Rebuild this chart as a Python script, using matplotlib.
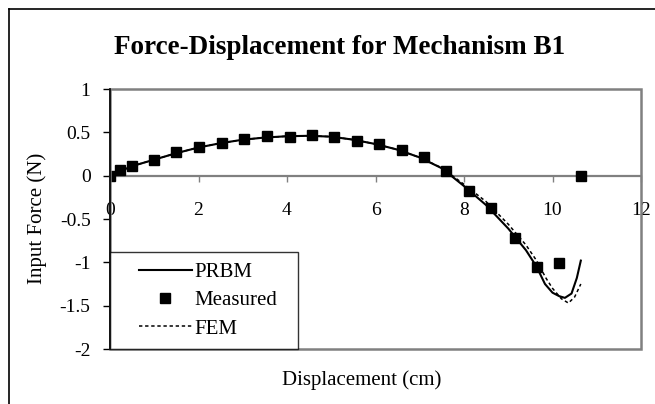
import matplotlib
matplotlib.use("Agg")
import matplotlib.pyplot as plt
from matplotlib.lines import Line2D
from matplotlib.patches import Rectangle
from matplotlib.legend_handler import HandlerLine2D

plt.rcParams["font.family"] = ["Liberation Serif", "DejaVu Serif"]

# ---- data ----
prbm_x = [0, 0.5, 1, 1.5, 2, 2.5, 3, 3.5, 4, 4.5, 5, 5.5, 6, 6.5, 7, 7.5, 8, 8.5,
          9, 9.4, 9.64, 9.83, 10.0, 10.15, 10.28, 10.43, 10.55, 10.64]
prbm_y = [0, 0.11, 0.185, 0.26, 0.325, 0.375, 0.415, 0.44, 0.455, 0.46, 0.45, 0.415,
          0.365, 0.30, 0.21, 0.085, -0.12, -0.34, -0.61, -0.86, -1.05, -1.25, -1.35,
          -1.39, -1.41, -1.36, -1.18, -0.98]

fem_x = [0, 0.5, 1, 1.5, 2, 2.5, 3, 3.5, 4, 4.5, 5, 5.5, 6, 6.5, 7, 7.5, 8, 8.5,
         9, 9.4, 9.64, 9.85, 10.0, 10.2, 10.36, 10.5, 10.64]
fem_y = [0, 0.11, 0.185, 0.26, 0.325, 0.375, 0.415, 0.44, 0.455, 0.46, 0.45, 0.415,
         0.365, 0.30, 0.21, 0.09, -0.10, -0.30, -0.56, -0.80, -0.98, -1.18, -1.30,
         -1.42, -1.47, -1.40, -1.25]

meas_x = [0, 0.23, 0.5, 1.0, 1.5, 2.01, 2.52, 3.03, 3.54, 4.07, 4.56, 5.06, 5.59,
          6.08, 6.61, 7.1, 7.6, 8.12, 8.62, 9.15, 9.64, 10.15, 10.64]
meas_y = [0, 0.07, 0.115, 0.18, 0.27, 0.33, 0.38, 0.42, 0.457, 0.45, 0.47, 0.45, 0.40,
          0.36, 0.30, 0.21, 0.05, -0.18, -0.37, -0.72, -1.05, -1.01, 0.0]

x_ticks = [0, 2, 4, 6, 8, 10, 12]
y_ticks = [1, 0.5, 0, -0.5, -1, -1.5, -2]
y_tick_labels = ["1", "0.5", "0", "-0.5", "-1", "-1.5", "-2"]

W, H = 655, 404
fig = plt.figure(figsize=(W / 100, H / 100), dpi=100)

# plot area in pixels: x 110..641, y 89..349
ax = fig.add_axes([110 / W, 1 - 349 / H, 531 / W, 260 / H])
ax.set_xlim(0, 12)
ax.set_ylim(-2, 1)

gray = "#808080"
ax.plot(prbm_x, prbm_y, color="black", lw=1.5, label="PRBM", zorder=3)
ax.plot(meas_x, meas_y, ls="none", marker="s", ms=6.5, color="black",
        label="Measured", zorder=4)
ax.plot(fem_x, fem_y, color="black", lw=1.1, ls=(0, (2.2, 1.8)), label="FEM", zorder=3)

# plot-area frame (gray), left axis black, x axis through y=0
for s in ["top", "right"]:
    ax.spines[s].set_visible(False)
ax.add_patch(Rectangle((0, 0), 1, 1, transform=ax.transAxes, fill=False,
                       edgecolor=gray, lw=1.8, zorder=5, clip_on=False))
ax.spines["bottom"].set_position(("data", 0))
ax.spines["bottom"].set_color(gray)
ax.spines["bottom"].set_linewidth(1.6)
ax.spines["left"].set_color("black")
ax.spines["left"].set_linewidth(1.2)
ax.spines["left"].set_zorder(6)

ax.set_xticks(x_ticks)
ax.set_xticklabels([str(t) for t in x_ticks])
ax.set_yticks(y_ticks)
ax.set_yticklabels(y_tick_labels)
ax.tick_params(axis="x", direction="out", length=4, width=1, color=gray,
               labelsize=14, pad=15)
ax.tick_params(axis="y", direction="out", length=5, width=1, color="black",
               labelsize=14, pad=9)

# legend box: x 111..299, y 258..349 px; handles indented like Excel
leg = ax.legend(loc="lower left", bbox_to_anchor=(0, 0, 188 / 531, 91 / 260),
                mode="expand", borderaxespad=0, fontsize=15, frameon=True,
                fancybox=False, handlelength=3.42, handletextpad=0.15,
                labelspacing=0.42, borderpad=0.5,
                handler_map={Line2D: HandlerLine2D(xpad=0.87)})
leg.get_frame().set_edgecolor("black")
leg.get_frame().set_linewidth(1.0)
leg.set_zorder(7)

fig.text(340 / W, 1 - 48 / H, "Force-Displacement for Mechanism B1",
         ha="center", va="center", fontsize=19.5, fontweight="bold")
fig.text(362 / W, 1 - 380 / H, "Displacement (cm)", ha="center", va="center",
         fontsize=15)
fig.text(37 / W, 1 - 218 / H, "Input Force (N)", ha="center", va="center",
         fontsize=15, rotation=90)

# outer chart border (left and top visible)
fig.add_artist(Line2D([9 / W, 9 / W], [0, 1 - 9 / H], color="black", lw=1.2))
fig.add_artist(Line2D([9 / W, 1], [1 - 9 / H, 1 - 9 / H], color="black", lw=1.2))

fig.savefig("out.png", dpi=100)
